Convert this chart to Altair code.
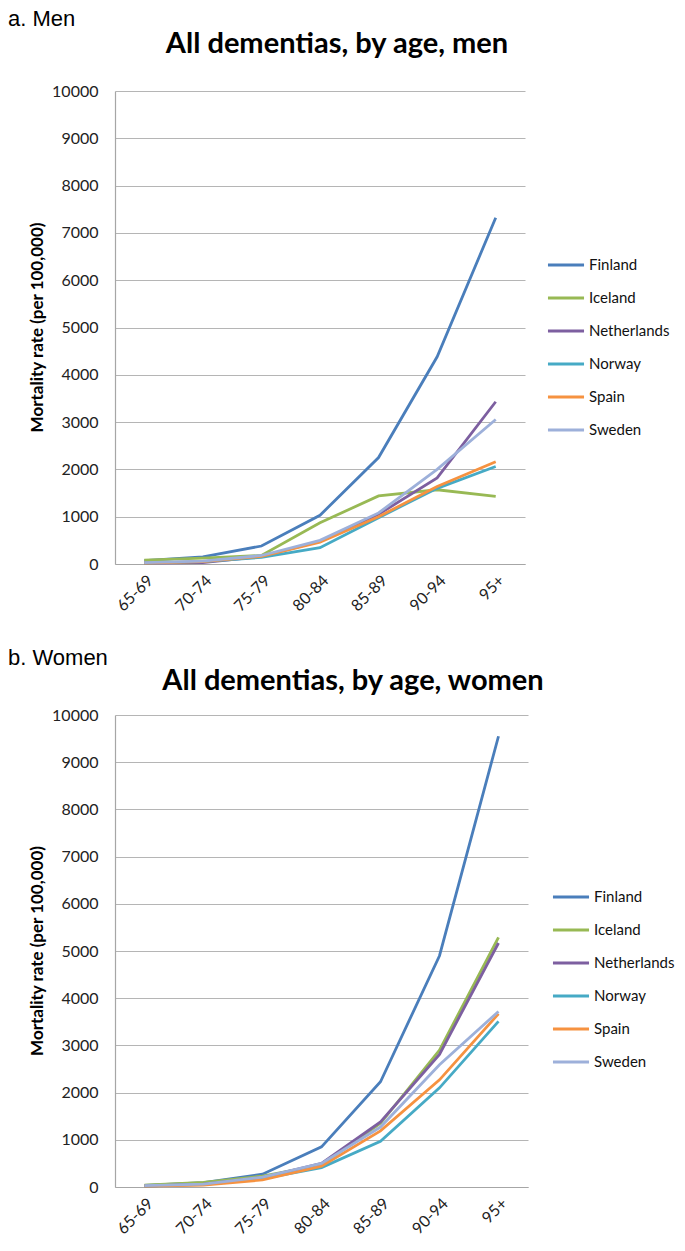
import altair as alt
import pandas as pd

ages = ["65-69", "70-74", "75-79", "80-84", "85-89", "90-94", "95+"]
countries = ["Finland", "Iceland", "Netherlands", "Norway", "Spain", "Sweden"]
colors = ["#4A7EBB", "#98B954", "#7D5FA0", "#46AAC5", "#F69240", "#9DB0DA"]

# Men (per 100,000)
men_finland = [70, 150, 380, 1030, 2250, 4380, 7320]
men_iceland = [80, 125, 180, 870, 1440, 1570, 1430]
men_netherlands = [20, 30, 160, 480, 1050, 1820, 3430]
men_norway = [20, 50, 140, 345, 980, 1600, 2060]
men_spain = [20, 50, 160, 460, 1000, 1640, 2160]
men_sweden = [30, 60, 180, 500, 1080, 2000, 3055]

# Women (per 100,000)
women_finland = [35, 90, 270, 850, 2230, 4900, 9550]
women_iceland = [40, 100, 230, 470, 1350, 2900, 5290]
women_netherlands = [20, 60, 200, 500, 1380, 2810, 5170]
women_norway = [20, 50, 180, 410, 970, 2100, 3510]
women_spain = [20, 40, 150, 440, 1190, 2270, 3670]
women_sweden = [30, 60, 210, 500, 1270, 2590, 3720]

y_ticks = list(range(0, 10001, 1000))
y_title = "Mortality rate (per 100,000)"


def make_df(series):
    rows = []
    for c, vals in zip(countries, series):
        for a, v in zip(ages, vals):
            rows.append({"age": a, "country": c, "rate": v})
    return pd.DataFrame(rows)


def panel(df, label, title, width, height, title_x, title_y, label_y,
          legend_offset, legend_pad):
    lines = alt.Chart(df).mark_line(strokeWidth=2.8).encode(
        x=alt.X(
            "age:N",
            sort=ages,
            scale=alt.Scale(type="point", padding=0.5),
            axis=alt.Axis(
                title=None, labelAngle=-45, labelFont="Lato", labelFontSize=16,
                labelColor="#222222", labelPadding=8, ticks=False, grid=False,
                domainColor="#A6A6A6", domainWidth=1.2,
            ),
        ),
        y=alt.Y(
            "rate:Q",
            scale=alt.Scale(domain=[0, 10000]),
            axis=alt.Axis(
                values=y_ticks, format="d", title=None,
                labelFont="Lato", labelFontSize=16, labelColor="#222222",
                labelPadding=17, ticks=False, grid=True, gridColor="#B5B5B5",
                gridWidth=1.1, domainColor="#A6A6A6", domainWidth=1.2,
            ),
        ),
        color=alt.Color(
            "country:N",
            scale=alt.Scale(domain=countries, range=colors),
            legend=alt.Legend(
                title=" ", titleFontSize=1, titlePadding=legend_pad,
                orient="right", offset=legend_offset,
                symbolType="stroke", symbolSize=1300, symbolStrokeWidth=3,
                labelFont="Lato", labelFontSize=15, labelColor="#111111",
                labelOffset=3, rowPadding=5,
            ),
        ),
    )
    ytl = alt.Chart(pd.DataFrame({"t": [y_title]})).mark_text(
        align="center", baseline="middle", angle=270, font="Lato",
        fontWeight="bold", fontSize=17, color="#000000",
    ).encode(text="t:N", x=alt.value(-77), y=alt.value(height / 2))
    lab = alt.Chart(pd.DataFrame({"t": [label]})).mark_text(
        align="left", baseline="alphabetic", font="Liberation Sans",
        fontSize=22, color="#000000",
    ).encode(text="t:N", x=alt.value(-107), y=alt.value(label_y))
    ttl = alt.Chart(pd.DataFrame({"t": [title]})).mark_text(
        align="center", baseline="alphabetic", font="Lato", fontWeight="bold",
        fontSize=29, color="#000000",
    ).encode(text="t:N", x=alt.value(title_x), y=alt.value(title_y))
    return alt.layer(lines, ytl, lab, ttl).properties(width=width, height=height)


men_df = make_df([men_finland, men_iceland, men_netherlands, men_norway, men_spain, men_sweden])
women_df = make_df([women_finland, women_iceland, women_netherlands, women_norway, women_spain, women_sweden])

top = panel(men_df, "a. Men", "All dementias, by age, men", 410, 473, 222, -38, -65, 21, 153)
bottom = panel(women_df, "b. Women", "All dementias, by age, women", 413, 472, 238, -25, -50, 23, 161)

chart = (
    alt.vconcat(top, bottom, spacing=151, bounds="flush")
    .resolve_scale(color="independent")
    .resolve_legend(color="independent")
    .properties(padding={"top": 0, "left": 0, "right": 0, "bottom": 0})
    .configure_view(stroke=None)
)

chart.save("out.html", embed_options={"renderer": "svg", "actions": False})
